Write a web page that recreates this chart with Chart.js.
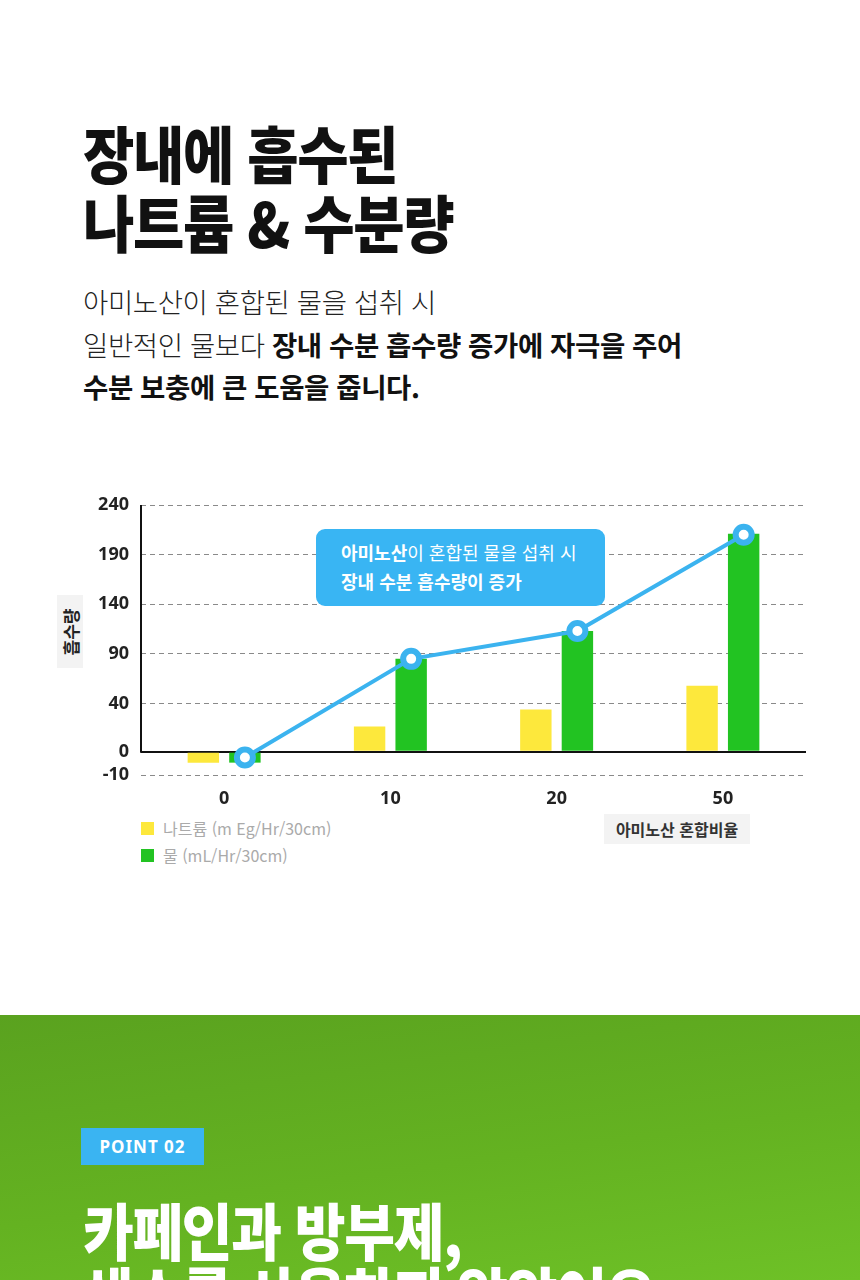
<!DOCTYPE html>
<html lang="ko">
<head>
<meta charset="utf-8">
<script src="https://cdn.jsdelivr.net/npm/chart.js@4.4.0/dist/chart.umd.min.js"></script>
<style>
  html, body { margin: 0; padding: 0; }
  body { width: 860px; height: 1280px; overflow: hidden; background: #fff; position: relative;
         font-family: "Noto Sans CJK KR", "Noto Sans", sans-serif; color: #111; }
  .title { position: absolute; left: 83px; top: 118px; margin: 0; font-size: 62px; line-height: 69px;
           font-weight: 900; letter-spacing: -1.5px; transform: scaleX(0.9); transform-origin: left top; white-space: nowrap; }
  .lead { position: absolute; left: 83px; top: 280px; margin: 0; font-size: 27.5px; line-height: 42.5px;
          font-weight: 300; color: #222; letter-spacing: -0.4px; white-space: nowrap; }
  .lead b { font-weight: 700; color: #111; }
  #absorbChart { position: absolute; left: 0; top: 480px; }
  .y-title { position: absolute; left: 57px; top: 595px; width: 26px; height: 73px; background: #f3f3f3; }
  .y-title span { position: absolute; left: 50%; top: 50%; transform: translate(-50%, -50%) rotate(-90deg);
                  font-size: 17px; font-weight: 700; color: #222; white-space: nowrap; }
  .callout { position: absolute; left: 316px; top: 529px; width: 289px; height: 77px; box-sizing: border-box;
             padding: 9px 0 0 25px; background: #39b5f3; border-radius: 9px; color: #fff;
             font-size: 18px; line-height: 29px; font-weight: 400; white-space: nowrap; }
  .callout b { font-weight: 700; }
  #legend { position: absolute; left: 141px; top: 815px; margin: 0; padding: 0; list-style: none; }
  #legend li { height: 27px; line-height: 27px; font-size: 16px; color: #aaa; display: flex; align-items: center; }
  #legend li i { display: inline-block; width: 13px; height: 13px; margin-right: 9px; }
  .x-title { position: absolute; left: 604px; top: 814px; width: 146px; height: 30px; background: #f3f3f3;
             text-align: center; line-height: 30px; font-size: 16px; font-weight: 700; color: #333; }
  .point { position: absolute; left: 0; top: 1015px; width: 860px; height: 265px;
           background: linear-gradient(172deg, #5aa21f 0%, #64b221 55%, #6ec127 100%); }
  .badge { position: absolute; left: 81px; top: 113px; width: 123px; height: 37px; background: #3ab4f2;
           color: #fff; font-family: "Noto Sans", sans-serif; font-weight: 700; font-size: 17px;
           letter-spacing: 1px; text-align: center; line-height: 37px; }
  .point h2 { position: absolute; left: 83px; top: 182px; margin: 0; color: #fff; font-size: 62px; line-height: 64px;
              font-weight: 900; letter-spacing: -1.5px; transform: scaleX(0.89); transform-origin: left top; white-space: nowrap; }
</style>
</head>
<body>
<h1 class="title">장내에 흡수된<br>나트륨 &amp; 수분량</h1>
<p class="lead">아미노산이 혼합된 물을 섭취 시<br>일반적인 물보다 <b>장내 수분 흡수량 증가에 자극을 주어<br>수분 보충에 큰 도움을 줍니다.</b></p>

<canvas id="absorbChart" width="860" height="335"></canvas>
<div class="y-title"><span>흡수량</span></div>
<div class="callout"><b>아미노산</b>이 혼합된 물을 섭취 시<br><b>장내 수분 흡수량이 증가</b></div>
<ul id="legend"></ul>
<div class="x-title">아미노산 혼합비율</div>

<div class="point">
  <div class="badge">POINT 02</div>
  <h2>카페인과 방부제,<br>색소를 사용하지 않았어요</h2>
</div>

<script>
// 아미노산 혼합비율
var mixRatios = ['0', '10', '20', '50'];
var seriesLabels = ['나트륨 (m Eg/Hr/30cm)', '물 (mL/Hr/30cm)'];
var sodiumValues = [-4.7, 21, 35, 58];
var waterValues = [-4.7, 85, 113, 211];
var trendValues = [-2.5, 85, 113, 210];
var yTicks = [-10, 0, 40, 90, 140, 190, 240];

// 눈금 간격 (아래 -10 구간은 좁게 그려져 있음)
var yTickSpacing = [0.47, 0.97, 1, 1, 1, 1];
var colors = ['#fde83c', '#22c322', '#3bb3ef'];

// 눈금마다 간격이 다른 세로축
class StepScale extends Chart.LinearScale {
    getPixelForValue(value) {
        if (value === null || value === undefined) return NaN;
        var total = yTickSpacing.reduce(function (a, b) { return a + b; }, 0);
        var acc = 0;
        for (var i = 0; i < yTicks.length - 1; i++) {
            if (value <= yTicks[i + 1] || i === yTicks.length - 2) {
                var part = (value - yTicks[i]) / (yTicks[i + 1] - yTicks[i]);
                return this.getPixelForDecimal((acc + yTickSpacing[i] * part) / total);
            }
            acc += yTickSpacing[i];
        }
    }
}
StepScale.id = 'stepLinear';
StepScale.defaults = Chart.LinearScale.defaults;
Chart.register(StepScale);

// 선 그래프 점을 초록 막대 위로 옮기고, 세로축 선 그리기
var chartExtras = {
    id: 'chartExtras',
    afterDatasetsUpdate: function (chart) {
        var bars = chart.getDatasetMeta(1).data;
        chart.getDatasetMeta(2).data.forEach(function (p, i) { p.x = bars[i].x; });
    },
    beforeDatasetsDraw: function (chart) {
        var ctx = chart.ctx, y = chart.scales.y, area = chart.chartArea;
        ctx.save();
        ctx.strokeStyle = '#111';
        ctx.lineWidth = 2;
        ctx.beginPath();
        ctx.moveTo(area.left, y.getPixelForValue(yTicks[yTicks.length - 1]));
        ctx.lineTo(area.left, y.getPixelForValue(0) + 1);
        ctx.stroke();
        ctx.restore();
    }
};

var ctx = document.getElementById('absorbChart');
var absorbChart = new Chart(ctx, {
    type: 'bar',
    data: {
        labels: mixRatios,
        datasets: [
            {
                label: seriesLabels[0],
                data: sodiumValues,
                backgroundColor: colors[0],
                categoryPercentage: 0.5,
                barPercentage: 0.756,
                order: 1
            },
            {
                label: seriesLabels[1],
                data: waterValues,
                backgroundColor: colors[1],
                categoryPercentage: 0.5,
                barPercentage: 0.756,
                order: 2
            },
            {
                type: 'line',
                label: 'trend',
                data: trendValues,
                borderColor: colors[2],
                borderWidth: 4,
                pointRadius: 8,
                pointBorderWidth: 6,
                pointBackgroundColor: '#fff',
                pointBorderColor: colors[2],
                tension: 0,
                order: 0
            }
        ]
    },
    options: {
        responsive: false,
        devicePixelRatio: 1,
        animation: false,
        events: [],
        layout: { padding: { top: 25, right: 54, left: 0, bottom: 0 } },
        plugins: { legend: { display: false }, tooltip: { enabled: false } },
        scales: {
            x: {
                type: 'category',
                grid: { display: false, drawTicks: false },
                border: { display: false },
                ticks: { padding: 13, color: '#222', font: { family: 'Noto Sans', size: 18, weight: 'bold' } },
                afterFit: function (s) { s.height = 40; }
            },
            y: {
                type: 'stepLinear',
                min: -10,
                max: 240,
                afterBuildTicks: function (s) { s.ticks = yTicks.map(function (v) { return { value: v }; }); },
                grid: {
                    drawTicks: false,
                    color: function (c) { return c.tick && c.tick.value === 0 ? '#111' : '#8a8a8a'; },
                    lineWidth: function (c) { return c.tick && c.tick.value === 0 ? 2 : 1; }
                },
                border: {
                    display: false,
                    dash: function (c) { return c.tick && c.tick.value === 0 ? [] : [5, 4]; }
                },
                ticks: { padding: 12, color: '#222', font: { family: 'Noto Sans', size: 18, weight: 'bold' } },
                afterFit: function (s) { s.width = 141; }
            }
        }
    },
    plugins: [chartExtras]
});

// 범례
var legend = document.getElementById('legend');
absorbChart.data.datasets.slice(0, 2).forEach(function (ds) {
    var li = document.createElement('li');
    li.innerHTML = '<i style="background:' + ds.backgroundColor + '"></i>' + ds.label;
    legend.appendChild(li);
});
</script>
</body>
</html>
